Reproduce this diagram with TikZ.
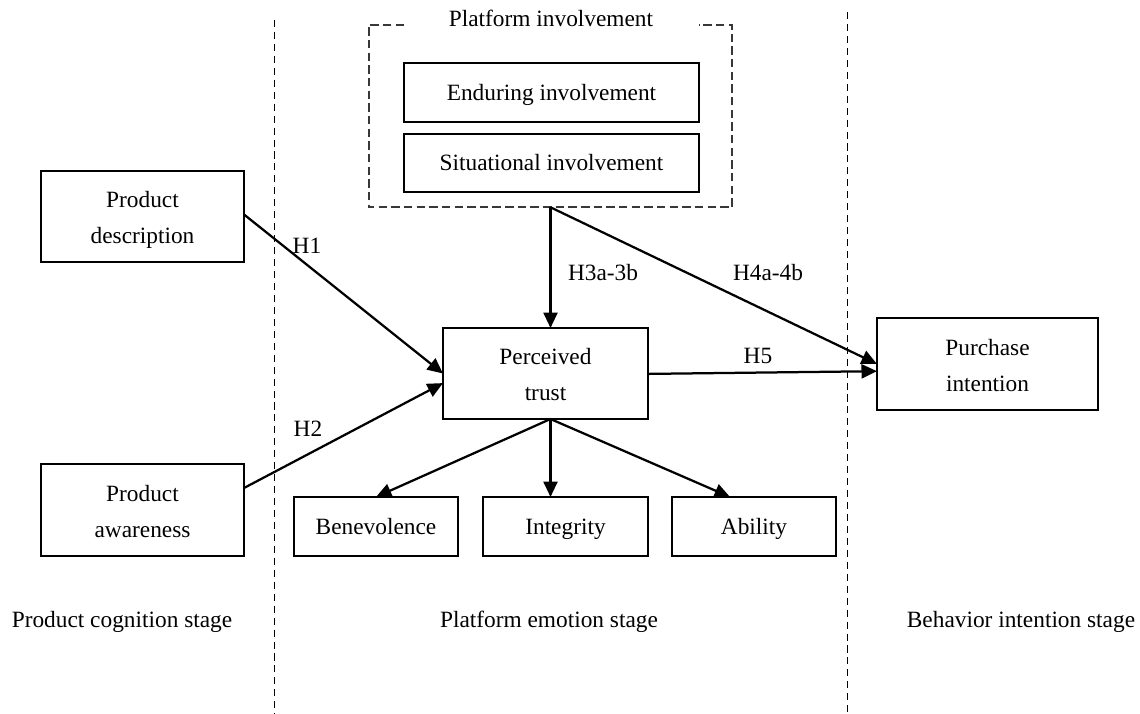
\documentclass[tikz,border=0pt]{standalone}
\usepackage{fontspec}
\setmainfont{Liberation Serif}
\usetikzlibrary{arrows.meta}

\tikzset{
	txt/.style={font=\fontsize{16.6}{25.6}\selectfont, align=center, inner sep=0pt, text height=11.5pt, text depth=3.5pt},
	box/.style={txt, draw, line width=1.25pt, outer sep=0pt, text height=14.5pt},
	twoline/.style={text height=42.7pt, text depth=3.7pt},
	outerbox/.style={draw=black!78, line width=1.3pt, dash pattern=on 6pt off 3pt},
	stageline/.style={line width=0.65pt, dash pattern=on 5pt off 3.5pt},
	hyp/.style={line width=1.6pt, -{Triangle[length=11pt,width=10pt]}}
}

\begin{document}
\begin{tikzpicture}[x=0.025cm, y=-0.025cm]
			%%%%% START %%%%%
			\useasboundingbox (0, 0) rectangle (1140, 714);
			
			% stage borders
			\draw[stageline] (274, 20) -- (274, 714);
			\draw[stageline] (847, 12) -- (847, 714);
			
			% platform involvement
			\node[minimum width=9.075cm, minimum height=4.55cm] (inv) at (550.5, 116) {};
			\node[box, minimum width=7.375cm, minimum height=1.475cm] (endur) at (551.5, 92.5) {Enduring involvement};
			\node[box, minimum width=7.375cm, minimum height=1.45cm] (situ) at (551.5, 163) {Situational involvement};
			\draw[outerbox] (endur.west |- inv.north) -- (inv.north west) -- (inv.south west) -- (inv.south east) -- (inv.north east) -- (endur.east |- inv.north);
			\node[txt] (invtitle) at (551, 21) {Platform involvement};
			
			% left column
			\node[box, twoline, minimum width=5.075cm, minimum height=2.275cm] (desc) at (142.5, 216.5) {Product\\description};
			\node[box, twoline, minimum width=5.075cm, minimum height=2.3cm] (aware) at (142.5, 510) {Product\\awareness};
			
			% middle
			\node[box, twoline, minimum width=5.125cm, minimum height=2.275cm] (trust) at (545.5, 373.5) {Perceived\\trust};
			\node[box, minimum width=4.1cm, minimum height=1.475cm] (benev) at (376, 526.5) {Benevolence};
			\node[box, minimum width=4.125cm, minimum height=1.475cm] (integ) at (565.5, 526.5) {Integrity};
			\node[box, minimum width=4.1cm, minimum height=1.475cm] (abil) at (754, 526.5) {Ability};
			
			% right
			\node[box, twoline, minimum width=5.525cm, minimum height=2.3cm] (purch) at (987.5, 364) {Purchase\\intention};
			
			% hypotheses
			\draw[hyp] ([yshift=0.05cm]desc.east) -- (trust.west);
			\draw[hyp] ([yshift=0.55cm]aware.east) -- ([yshift=-0.24cm]trust.west);
			\draw[hyp] (inv.south) -- (inv.south |- trust.north);
			\draw[hyp] (inv.south) -- (purch.west);
			\draw[hyp] ([yshift=-0.01cm]trust.east) -- ([yshift=-0.18cm]purch.west);
			
			\coordinate (tbot) at (inv.south |- trust.south);
			\draw[hyp] (tbot) -- (benev.north);
			\draw[hyp] (tbot) -- (inv.south |- integ.north);
			\draw[hyp] (tbot) -- ([xshift=-0.6cm]abil.north);
			
			\node[txt] (h1) at (307, 248) {H1};
			\node[txt] (h2) at (308, 431) {H2};
			\node[txt] (h3) at (603, 275) {H3a-3b};
			\node[txt] (h4) at (768, 275) {H4a-4b};
			\node[txt] (h5) at (758, 358) {H5};
			
			% stages
			\node[txt] (st1) at (122, 622) {Product cognition stage};
			\node[txt] (st2) at (549, 622) {Platform emotion stage};
			\node[txt] (st3) at (1021, 622) {Behavior intention stage};
			%%%%% END %%%%%
\end{tikzpicture}
\end{document}
